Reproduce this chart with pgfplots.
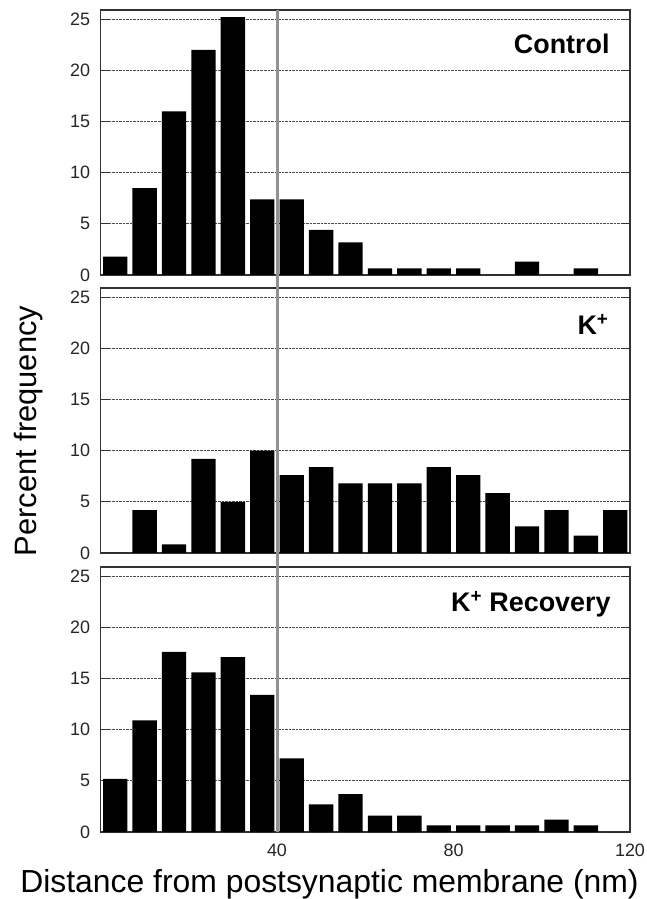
\documentclass[border=0pt]{standalone}
\usepackage{fontspec}
\setmainfont{Liberation Sans}
\usepackage{pgfplots}
\pgfplotsset{compat=1.18}
\definecolor{axgray}{RGB}{50,50,50}
\definecolor{linegray}{RGB}{145,145,145}
\pgfplotsset{panel/.style={
  scale only axis, width=529.5bp, height=265bp,
  anchor=south west,
  xmin=0, xmax=120, ymin=0, ymax=25.9,
  ytick={0,5,10,15,20,25},
  ymajorgrids,
  grid style={densely dotted, black!70, line width=0.7bp},
  tick align=inside, major tick length=9bp,
  axis line style={axgray, line width=1.2bp},
  every tick/.style={axgray, line width=1.2bp},
  /pgf/number format/assume math mode=true,
  yticklabel style={font=\fontsize{18}{20}\selectfont, color=black!85, xshift=-7bp},
  xticklabel style={font=\fontsize{18}{20}\selectfont, color=black!85, yshift=-8bp},
  clip=false,
}}
\pgfplotsset{bars/.style={ybar, fill=black, draw=none, bar width=5.5}}
\begin{document}
\begin{tikzpicture}
\useasboundingbox (0,0) rectangle (647bp,899bp);
% Control
\begin{axis}[panel, at={(100.5bp,624bp)}, xtick=\empty]
\addplot[bars] coordinates {
(3.333,1.8) (10,8.5) (16.667,16.0) (23.333,22.0) (30,25.2) (36.667,7.4)
(43.333,7.4) (50,4.4) (56.667,3.2) (63.333,0.65) (70,0.65) (76.667,0.65)
(83.333,0.65) (90,0) (96.667,1.3) (103.333,0) (110,0.65) (116.667,0)};
\node[anchor=base east, font=\bfseries\fontsize{27}{30}\selectfont] at (rel axis cs:0.968,0.834) {Control};
\coordinate (gtop) at (axis cs:40,25.9);
\end{axis}
% K+
\begin{axis}[panel, at={(100.5bp,346bp)}, xtick=\empty]
\addplot[bars] coordinates {
(3.333,0) (10,4.2) (16.667,0.85) (23.333,9.2) (30,5.0) (36.667,10.0)
(43.333,7.6) (50,8.4) (56.667,6.8) (63.333,6.8) (70,6.8) (76.667,8.4)
(83.333,7.6) (90,5.85) (96.667,2.6) (103.333,4.2) (110,1.7) (116.667,4.2)};
\node[anchor=base east, font=\bfseries\fontsize{27}{30}\selectfont] at (rel axis cs:0.966,0.826) {K\textsuperscript{+}};
\node[rotate=90, anchor=base, font=\fontsize{31}{34}\selectfont] at (rel axis cs:-0.1218,0.46) {Percent frequency};
\end{axis}
% K+ Recovery
\begin{axis}[panel, at={(100.5bp,67bp)}, xtick={40,80,120}, xtick style={draw=none}]
\addplot[bars] coordinates {
(3.333,5.2) (10,10.9) (16.667,17.6) (23.333,15.6) (30,17.1) (36.667,13.4)
(43.333,7.2) (50,2.7) (56.667,3.7) (63.333,1.6) (70,1.6) (76.667,0.65)
(83.333,0.65) (90,0.65) (96.667,0.65) (103.333,1.2) (110,0.65) (116.667,0)};
\node[anchor=base east, font=\bfseries\fontsize{27}{30}\selectfont] at (rel axis cs:0.970,0.832) {K\textsuperscript{+} Recovery};
\node[anchor=base, font=\fontsize{32}{36}\selectfont] at (rel axis cs:0.4325,-0.23) {Distance from postsynaptic membrane (nm)};
\coordinate (gbot) at (axis cs:40,0);
\end{axis}
\draw[linegray, line width=3bp] (gtop) -- (gbot);
\end{tikzpicture}
\end{document}
